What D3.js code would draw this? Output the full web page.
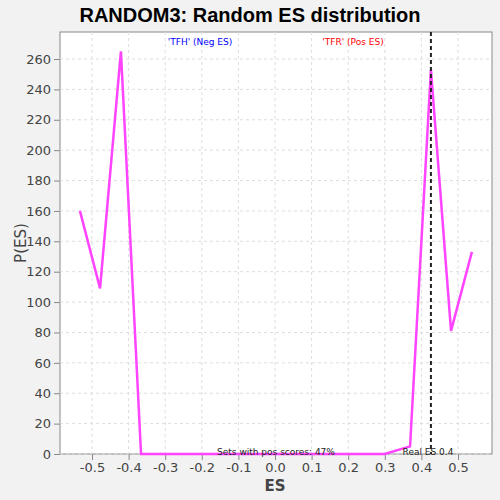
<!DOCTYPE html>
<html>
<head><meta charset="utf-8"></head>
<script src="https://d3js.org/d3.v7.min.js"></script>
<body style="margin:0;background:#f2f2f2">
<svg width="500" height="500"></svg>
<script>
// values
var esValues = [-0.533, -0.478, -0.421, -0.366, -0.3, -0.2, -0.1, 0.0, 0.1, 0.2, 0.3, 0.369, 0.426, 0.481, 0.538];
var pValues = [160, 109, 265, 0, 0, 0, 0, 0, 0, 0, 0, 5, 253, 81, 133];
var xTicks = [-0.5, -0.4, -0.3, -0.2, -0.1, 0.0, 0.1, 0.2, 0.3, 0.4, 0.5];
var yTicks = d3.range(0, 261, 20);
var realES = 0.426;

var svg = d3.select("svg");
var L = 60, R = 492, T = 32, B = 454;
var x = d3.scaleLinear().domain([-0.5, 0.5]).range([92, 458]);
var y = d3.scaleLinear().domain([0, 260]).range([B, 59]);

svg.append("rect").attr("x", L).attr("y", T).attr("width", R - L).attr("height", B - T)
    .attr("fill", "white").attr("stroke", "#888");

// grid
svg.append("g").selectAll("line").data(xTicks).enter().append("line")
    .attr("x1", x).attr("x2", x).attr("y1", T).attr("y2", B)
    .attr("stroke", "#ddd").attr("stroke-dasharray", "3,3");
svg.append("g").selectAll("line").data(yTicks).enter().append("line")
    .attr("x1", L).attr("x2", R).attr("y1", y).attr("y2", y)
    .attr("stroke", "#ddd").attr("stroke-dasharray", "3,3");

// axes
var xa = svg.append("g").attr("transform", "translate(0," + B + ")")
    .call(d3.axisBottom(x).tickValues(xTicks).tickFormat(function (d) { return d.toFixed(1); }).tickSizeOuter(0));
var ya = svg.append("g").attr("transform", "translate(" + L + ",0)")
    .call(d3.axisLeft(y).tickValues(yTicks).tickSizeOuter(0));
[xa, ya].forEach(function (a) {
    a.select(".domain").remove();
    a.selectAll("line").attr("stroke", "#888");
    a.selectAll("text").attr("fill", "#444").style("font", "13px 'DejaVu Sans'");
});

// line
svg.append("path").datum(d3.zip(esValues, pValues))
    .attr("d", d3.line().x(function (d) { return x(d[0]); }).y(function (d) { return y(d[1]); }))
    .attr("fill", "none").attr("stroke", "#ff44ff").attr("stroke-width", 2.5);

// real ES
svg.append("line").attr("x1", x(realES)).attr("x2", x(realES)).attr("y1", T).attr("y2", B)
    .attr("stroke", "#222").attr("stroke-width", 2).attr("stroke-dasharray", "4,3");

var lab = "font:9px 'DejaVu Sans'";
svg.append("text").attr("x", 200).attr("y", 45).attr("text-anchor", "middle").attr("fill", "blue").attr("style", lab).text("'TFH' (Neg ES)");
svg.append("text").attr("x", 353).attr("y", 45).attr("text-anchor", "middle").attr("fill", "red").attr("style", lab).text("'TFR' (Pos ES)");
svg.append("text").attr("x", 276).attr("y", 455).attr("text-anchor", "middle").attr("fill", "#222").attr("style", lab).text("Sets with pos scores: 47%");
svg.append("text").attr("x", 428).attr("y", 455).attr("text-anchor", "middle").attr("fill", "#222").attr("style", lab).text("Real ES 0.4");

svg.append("text").attr("x", 250).attr("y", 22).attr("text-anchor", "middle")
    .style("font", "bold 20px 'Liberation Sans'").text("RANDOM3: Random ES distribution");
svg.append("text").attr("x", 275).attr("y", 491).attr("text-anchor", "middle").attr("fill", "#444")
    .style("font", "bold 15px 'DejaVu Sans'").text("ES");
svg.append("text").attr("transform", "translate(26,243) rotate(-90)").attr("text-anchor", "middle").attr("fill", "#444")
    .style("font", "15px 'DejaVu Sans'").text("P(ES)");
</script>
</body>
</html>
